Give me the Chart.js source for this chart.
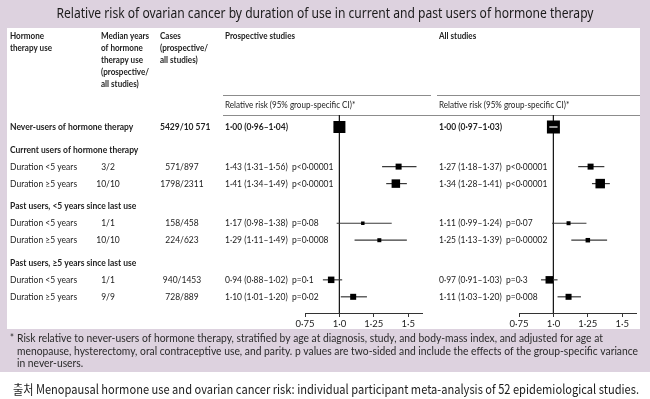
<!DOCTYPE html>
<html lang="en">
<head>
<meta charset="UTF-8">
<title>Relative risk of ovarian cancer by duration of hormone therapy use</title>
<script src="https://cdn.jsdelivr.net/npm/chart.js@4.4.1/dist/chart.umd.min.js"></script>
<style>
  html, body { margin: 0; padding: 0; background: #fff; }
  .wrap { position: relative; width: 650px; height: 399px; }
  .wrap canvas { position: absolute; left: 0; top: 0; }
</style>
</head>
<body>
<div class="wrap">
  <canvas id="prospective" width="650" height="399"></canvas>
  <canvas id="allStudies" width="650" height="399"></canvas>
</div>
<script>
const title = 'Relative risk of ovarian cancer by duration of use in current and past users of hormone therapy';
const source = '출처 Menopausal hormone use and ovarian cancer risk: individual participant meta-analysis of 52 epidemiological studies.';
const footnote = [
  'Risk relative to never-users of hormone therapy, stratified by age at diagnosis, study, and body-mass index, and adjusted for age at',
  'menopause, hysterectomy, oral contraceptive use, and parity. p values are two-sided and include the effects of the group-specific variance',
  'in never-users.'
];

const neverLabel = 'Never-users of hormone therapy';
const neverCases = '5429/10 571';
const groups = ['Current users of hormone therapy', 'Past users, <5 years since last use', 'Past users, ≥5 years since last use'];
const durations = ['Duration <5 years', 'Duration ≥5 years'];
const medianYears = ['3/2', '10/10', '1/1', '10/10', '1/1', '9/9'];
const cases = ['571/897', '1798/2311', '158/458', '224/623', '940/1453', '728/889'];

// index 0 = never-users, then the six duration rows in order
const prospRR = [1.00, 1.43, 1.41, 1.17, 1.29, 0.94, 1.10];
const prospLo = [0.96, 1.31, 1.34, 0.98, 1.11, 0.88, 1.01];
const prospHi = [1.04, 1.56, 1.49, 1.38, 1.49, 1.02, 1.20];
const prospP  = ['', 'p<0·00001', 'p<0·00001', 'p=0·08', 'p=0·0008', 'p=0·1', 'p=0·02'];

const allRR = [1.00, 1.27, 1.34, 1.11, 1.25, 0.97, 1.11];
const allLo = [0.97, 1.18, 1.28, 0.99, 1.13, 0.91, 1.03];
const allHi = [1.03, 1.37, 1.41, 1.24, 1.39, 1.03, 1.20];
const allP  = ['', 'p<0·00001', 'p<0·00001', 'p=0·07', 'p=0·00002', 'p=0·3', 'p=0·008'];

const xTicks = [0.75, 1.0, 1.25, 1.5];
const xTickLabels = ['0·75', '1·0', '1·25', '1·5'];

// box sides in px (style only)
const prospBox = [12, 6, 8.5, 3.5, 4, 6.5, 6];
const allBox = [13, 6, 9.5, 4, 4.5, 7.5, 6];

const LAV = '#ddd2df';
const INK = '#222';
const FONT = 'Lato, "Open Sans", sans-serif';
const SX = 0.85;

// row layout in "half line" units: header rows get a bigger gap
const rowY = [0];
const headerY = [];
let yy = 0;
groups.forEach(() => {
  yy += 4; headerY.push(yy);
  durations.forEach(() => { yy += 3; rowY.push(yy); });
});
const Y_MIN = -2.12, Y_MAX = 32.86;

function fmt(v) { return v.toFixed(2).replace('.', '·'); }
function statText(rr, lo, hi, p) {
  return fmt(rr) + ' (' + fmt(lo) + '–' + fmt(hi) + ')' + (p ? '  ' + p : '');
}

function drawText(ctx, s, x, y, o) {
  o = o || {};
  ctx.save();
  ctx.font = (o.weight || 'normal') + ' ' + (o.size || 10) + 'px ' + (o.family || FONT);
  ctx.fillStyle = o.color || INK;
  ctx.textBaseline = 'middle';
  ctx.textAlign = o.align || 'left';
  let sx = o.sx || SX;
  if (o.width) sx = o.width / ctx.measureText(s).width;
  ctx.translate(x, y);
  ctx.scale(sx, 1);
  ctx.fillText(s, 0, 0);
  ctx.restore();
  return sx;
}

const tablePlugin = {
  id: 'tableText',
  beforeDraw(chart) {
    const ctx = chart.ctx;
    ctx.save();
    ctx.fillStyle = LAV;
    ctx.fillRect(0, 0, 650, 399);
    ctx.fillStyle = '#fff';
    ctx.fillRect(0, 372, 650, 27);
    ctx.fillRect(7, 28, 633, 301);
    ctx.strokeStyle = '#8c8c8c';
    ctx.lineWidth = 1;
    ctx.beginPath();
    ctx.moveTo(223, 95.5); ctx.lineTo(431, 95.5);
    ctx.moveTo(437, 95.5); ctx.lineTo(640, 95.5);
    ctx.moveTo(223, 115.5); ctx.lineTo(640, 115.5);
    ctx.stroke();
    ctx.restore();
  },
  afterDraw(chart) {
    const ctx = chart.ctx;
    const py = v => chart.scales.y.getPixelForValue(v);

    drawText(ctx, title, 325, 14, { family: '"Noto Sans", sans-serif', size: 15, align: 'center', width: 537, color: '#1b1b1b' });

    // column headers
    const hb = { weight: 'bold', size: 9.5 };
    const hy = [36, 48, 60, 72, 84];
    ['Hormone', 'therapy use'].forEach((s, i) => drawText(ctx, s, 10, hy[i], hb));
    ['Median years', 'of hormone', 'therapy use', '(prospective/', 'all studies)'].forEach((s, i) => drawText(ctx, s, 101, hy[i], hb));
    ['Cases', '(prospective/', 'all studies)'].forEach((s, i) => drawText(ctx, s, 160, hy[i], hb));
    drawText(ctx, 'Prospective studies', 225, hy[0], hb);
    drawText(ctx, 'All studies', 439, hy[0], hb);
    drawText(ctx, 'Relative risk (95% group-specific CI)*', 225, 105, { size: 9.5 });
    drawText(ctx, 'Relative risk (95% group-specific CI)*', 439, 105, { size: 9.5 });

    // never-users row
    const b = { weight: 'bold' };
    drawText(ctx, neverLabel, 10, py(rowY[0]), b);
    drawText(ctx, neverCases, 160, py(rowY[0]), b);
    drawText(ctx, statText(prospRR[0], prospLo[0], prospHi[0], prospP[0]), 225, py(rowY[0]), b);
    drawText(ctx, statText(allRR[0], allLo[0], allHi[0], allP[0]), 439, py(rowY[0]), b);

    groups.forEach((g, gi) => {
      drawText(ctx, g, 10, py(headerY[gi]), b);
      durations.forEach((d, di) => {
        const i = 1 + gi * 2 + di;
        const y = py(rowY[i]);
        drawText(ctx, d, 10, y);
        drawText(ctx, medianYears[i - 1], 108, y, { align: 'center' });
        drawText(ctx, cases[i - 1], 182, y, { align: 'center' });
        drawText(ctx, statText(prospRR[i], prospLo[i], prospHi[i], prospP[i]), 225, y);
        drawText(ctx, statText(allRR[i], allLo[i], allHi[i], allP[i]), 439, y);
      });
    });

    // footnote and source
    const fsx = drawText(ctx, footnote[1], 17, 351, { size: 11, width: 621, color: '#2a2a2a' });
    drawText(ctx, '*', 10, 338, { size: 11, color: '#2a2a2a' });
    drawText(ctx, footnote[0], 17, 338, { size: 11, sx: fsx, color: '#2a2a2a' });
    drawText(ctx, footnote[2], 17, 363, { size: 11, sx: fsx, color: '#2a2a2a' });
    drawText(ctx, source, 13, 389, { family: '"Noto Sans CJK KR", "Noto Sans", sans-serif', size: 13, width: 626, color: '#1b1b1b' });
  }
};

function forestChart(id, rr, lo, hi, box, padLeft, padRight, plugins) {
  const pxPerUnit = (650 - padLeft - padRight) / (1.6 - 0.75);
  const datasets = [];
  datasets.push({
    type: 'scatter',
    data: rr.map((v, i) => ({ x: v, y: rowY[i] })),
    pointStyle: 'rect',
    pointRadius: box.map(s => s / Math.SQRT2),
    backgroundColor: '#000',
    borderWidth: 0,
    order: 1
  });
  rr.forEach((v, i) => {
    const inside = (hi[i] - lo[i]) * pxPerUnit < box[i] - 2;
    datasets.push({
      type: 'line',
      data: [{ x: lo[i], y: rowY[i] }, { x: hi[i], y: rowY[i] }],
      borderColor: inside ? '#fff' : '#3a3a3a',
      borderWidth: 1.2,
      pointRadius: 0,
      order: inside ? 0 : 2
    });
  });
  datasets.push({
    type: 'line',
    data: [{ x: 1, y: Y_MIN }, { x: 1, y: Y_MAX }],
    borderColor: '#1a1a1a',
    borderWidth: 1,
    pointRadius: 0,
    order: 3
  });

  return new Chart(document.getElementById(id), {
    type: 'scatter',
    data: { datasets: datasets },
    plugins: plugins,
    options: {
      responsive: false,
      animation: false,
      events: [],
      layout: { padding: { left: padLeft, right: padRight, top: 115, bottom: 70 } },
      plugins: { legend: { display: false }, tooltip: { enabled: false } },
      scales: {
        x: {
          type: 'linear',
          min: 0.75,
          max: 1.6,
          afterBuildTicks: s => { s.ticks = xTicks.map(v => ({ value: v })); },
          afterFit: s => { s.height = 16; },
          ticks: {
            callback: (v, i) => xTickLabels[i],
            font: { family: FONT, size: 9.5 },
            color: INK,
            padding: 1,
            maxRotation: 0,
            autoSkip: false
          },
          grid: { drawOnChartArea: false, drawTicks: true, tickLength: 4, color: '#333', lineWidth: 1 },
          border: { display: true, color: '#333', width: 1 }
        },
        y: { type: 'linear', display: false, reverse: true, min: Y_MIN, max: Y_MAX }
      }
    }
  });
}

forestChart('prospective', prospRR, prospLo, prospHi, prospBox, 305, 228, [tablePlugin]);
forestChart('allStudies', allRR, allLo, allHi, allBox, 519, 14, []);
</script>
</body>
</html>
